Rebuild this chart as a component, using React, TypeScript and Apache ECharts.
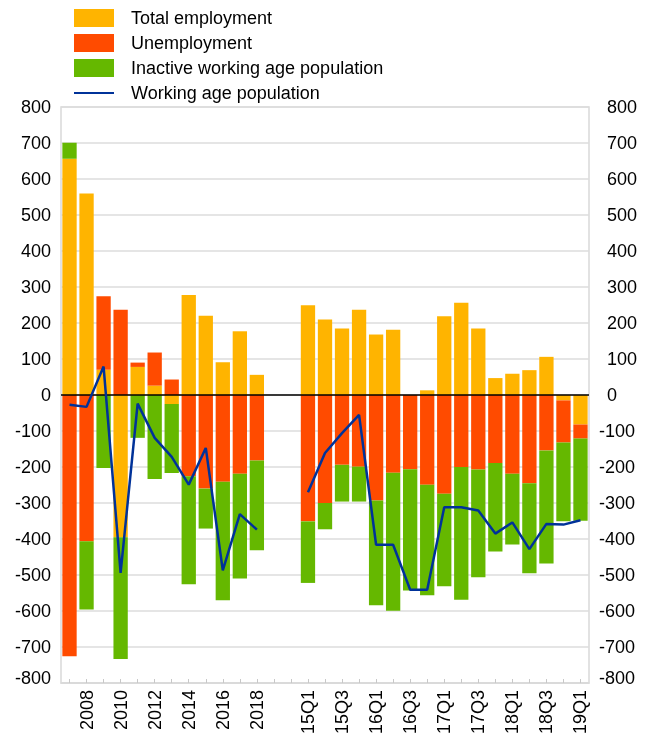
import React, { useEffect, useRef } from 'react';
import * as echarts from 'echarts';

// Categories
const years = ['2007', '2008', '2009', '2010', '2011', '2012', '2013', '2014', '2015', '2016', '2017', '2018'];
const gapSlots = [' ', '  '];
const quarters = ['15Q1', '15Q2', '15Q3', '15Q4', '16Q1', '16Q2', '16Q3', '16Q4', '17Q1', '17Q2', '17Q3', '17Q4', '18Q1', '18Q2', '18Q3', '18Q4', '19Q1'];
const shownLabels = ['2008', '2010', '2012', '2014', '2016', '2018', '15Q1', '15Q3', '16Q1', '16Q3', '17Q1', '17Q3', '18Q1', '18Q3', '19Q1'];

// Annual values (thousands)
const employmentAnnual = [656, 560, 70, -395, 78, 26, -25, 278, 220, 91, 177, 56];
const unemploymentAnnual = [-726, -406, 204, 237, 12, 92, 43, -226, -260, -241, -219, -182];
const inactiveAnnual = [45, -190, -203, -338, -119, -233, -192, -300, -111, -329, -291, -249];
const workingAgeAnnual = [-27, -33, 79, -494, -24, -119, -172, -249, -147, -487, -331, -374];

// Quarterly values
const employmentQ = [249, 210, 185, 237, 168, 181, 0, 13, 219, 256, 185, 47, 59, 69, 106, -15, -82];
const unemploymentQ = [-351, -300, -194, -199, -293, -216, -206, -249, -274, -200, -207, -189, -219, -245, -154, -117, -39];
const inactiveQ = [-171, -73, -102, -97, -291, -383, -337, -307, -257, -369, -299, -246, -196, -250, -314, -219, -228];
const workingAgeQ = [-270, -161, -106, -55, -416, -416, -541, -541, -312, -312, -321, -385, -354, -428, -358, -360, -348];

const gapValues = [null, null];
const categories = [...years, ...gapSlots, ...quarters];
const employment = [...employmentAnnual, ...gapValues, ...employmentQ];
const unemployment = [...unemploymentAnnual, ...gapValues, ...unemploymentQ];
const inactive = [...inactiveAnnual, ...gapValues, ...inactiveQ];
const workingAge = [...workingAgeAnnual, ...gapValues, ...workingAgeQ];

const FONT = '"Liberation Sans", Arial, sans-serif';
const TXT = '#000';

export default function App() {
  const ref = useRef<HTMLDivElement>(null);
  useEffect(() => {
    const chart = echarts.init(ref.current as HTMLDivElement, null, { renderer: 'svg' });
    const barCommon = {
      type: 'bar',
      stack: 'total',
      barCategoryGap: '16%',
      xAxisIndex: 0,
      yAxisIndex: 0,
    };
    chart.setOption({
      animation: false,
      textStyle: { fontFamily: FONT },
      legend: {
        orient: 'vertical',
        left: 73,
        top: 9,
        padding: 0,
        itemWidth: 40,
        itemHeight: 18,
        itemGap: 7,
        selectedMode: false,
        textStyle: { fontSize: 18, color: TXT, fontFamily: FONT, lineHeight: 18, padding: [0, 0, 0, 12] },
        data: [
          { name: 'Total employment', icon: 'rect' },
          { name: 'Unemployment', icon: 'rect' },
          { name: 'Inactive working age population', icon: 'rect' },
          { name: 'Working age population', itemStyle: { opacity: 0 } },
        ],
      },
      grid: {
        left: 61,
        right: 66,
        top: 107,
        bottom: 52,
        show: true,
        borderColor: '#d9d9d9',
        borderWidth: 1.5,
        containLabel: false,
        outerBoundsMode: 'none',
      },
      xAxis: {
        type: 'category',
        data: categories,
        position: 'bottom',
        axisLine: { onZero: false, lineStyle: { color: '#d9d9d9', width: 1.5 } },
        axisTick: { show: true, inside: true, length: 4, interval: 0, alignWithLabel: true, lineStyle: { color: '#c8c8c8' } },
        axisLabel: {
          rotate: 90,
          margin: 7,
          fontSize: 18,
          color: TXT,
          fontFamily: FONT,
          interval: (_i: number, v: string) => shownLabels.includes(v),
        },
        splitLine: { show: false },
      },
      yAxis: [
        {
          type: 'value',
          min: -800,
          max: 800,
          interval: 100,
          position: 'left',
          axisLine: { show: false },
          axisTick: { show: false },
          splitLine: { lineStyle: { color: '#dcdcdc', width: 1.5 } },
          axisLabel: {
            margin: 10,
            fontSize: 18,
            color: TXT,
            fontFamily: FONT,
            formatter: (v: number) => (v === -800 ? '{low|-800}' : String(v)),
            rich: { low: { fontSize: 18, color: TXT, fontFamily: FONT, padding: [0, 0, 11, 0] } },
          },
        },
        {
          type: 'value',
          min: -800,
          max: 800,
          interval: 100,
          position: 'right',
          axisLine: { show: false },
          axisTick: { show: false },
          splitLine: { show: false },
          axisLabel: {
            margin: 10,
            fontSize: 18,
            color: TXT,
            fontFamily: FONT,
            formatter: (v: number) =>
              v === -800 ? '{low|-800}' : v < 0 ? `{neg|${v}}` : `{pos|${v}}`,
            rich: {
              low: { fontSize: 18, color: TXT, fontFamily: FONT, padding: [0, 0, 11, 0] },
              neg: { fontSize: 18, color: TXT, fontFamily: FONT },
              pos: { fontSize: 18, color: TXT, fontFamily: FONT, padding: [0, 0, 0, 8] },
            },
          },
        },
      ],
      series: [
        { ...barCommon, name: 'Total employment', data: employment, itemStyle: { color: '#FFB400' } },
        { ...barCommon, name: 'Unemployment', data: unemployment, itemStyle: { color: '#FF4B00' } },
        { ...barCommon, name: 'Inactive working age population', data: inactive, itemStyle: { color: '#65B800' } },
        {
          type: 'line',
          name: 'Working age population',
          data: workingAge,
          symbol: 'none',
          connectNulls: false,
          z: 5,
          lineStyle: { color: '#003299', width: 2.5 },
          itemStyle: { color: '#003299' },
          markLine: {
            silent: true,
            symbol: 'none',
            label: { show: false },
            lineStyle: { color: '#000', width: 1.5, type: 'solid' },
            data: [{ yAxis: 0 }],
          },
        },
      ],
    });
    return () => chart.dispose();
  }, []);
  return <div ref={ref} style={{ position: 'fixed', left: 0, top: 0, width: 655, height: 735 }} />;
}
